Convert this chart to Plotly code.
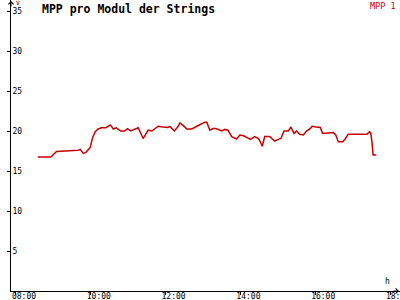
import plotly.graph_objects as go

day = "2024-01-01 "
times = ["08:35", "08:56", "09:05", "09:23", "09:27", "09:40", "09:43", "09:48", "09:53", "09:59",
         "10:03", "10:07", "10:12", "10:17", "10:24", "10:31", "10:33", "10:36", "10:41", "10:48",
         "10:54", "10:59", "11:04", "11:11", "11:16", "11:24", "11:32", "11:38", "11:48", "11:56",
         "12:03", "12:07", "12:14", "12:20", "12:23", "12:28", "12:34", "12:42", "12:47", "12:54",
         "13:03", "13:06", "13:11", "13:16", "13:21", "13:30", "13:35", "13:40", "13:46", "13:54",
         "13:59", "14:05", "14:10", "14:16", "14:23", "14:29", "14:32", "14:35", "14:39", "14:47",
         "14:50", "14:55", "15:01", "15:05", "15:10", "15:17", "15:21", "15:26", "15:30", "15:35",
         "15:41", "15:46", "15:52", "15:55", "16:02", "16:08", "16:12", "16:21", "16:29", "16:33",
         "16:37", "16:44", "16:48", "16:53", "17:23", "17:27", "17:29", "17:31", "17:32", "17:33",
         "17:38"]
values = [16.75, 16.75, 17.45, 17.5, 17.6, 17.6, 17.7, 17.2, 17.4, 17.95,
          19.2, 19.9, 20.25, 20.4, 20.4, 20.75, 20.6, 20.25, 20.4, 20.0,
          20.0, 20.3, 20.0, 20.25, 20.4, 19.06, 20.1, 20.0, 20.6, 20.5,
          20.45, 20.55, 20.0, 20.55, 21.0, 20.7, 20.25, 20.25, 20.5, 20.75,
          21.1, 21.1, 20.1, 20.3, 20.3, 20.0, 20.2, 20.1, 19.3, 19.0,
          19.5, 19.4, 19.2, 18.95, 19.3, 19.06, 18.65, 18.1, 19.3, 19.3,
          19.1, 18.75, 18.95, 19.06, 20.0, 20.0, 20.5, 19.7, 20.0, 19.6,
          19.5, 20.0, 20.3, 20.6, 20.5, 20.45, 19.7, 19.8, 19.8, 19.5,
          18.65, 18.65, 19.0, 19.6, 19.6, 19.9, 19.8, 18.6, 17.6, 17.0,
          17.0]

x_ticks = ["08:00", "10:00", "12:00", "14:00", "16:00", "18:00"]
y_ticks = [5, 10, 15, 20, 25, 30, 35]

title = "MPP pro Modul der Strings"
series_name = "MPP 1"
line_color = "#c80000"
mono = "DejaVu Sans Mono"

fig = go.Figure()
fig.add_trace(go.Scatter(
    x=[day + t for t in times], y=values, mode="lines",
    line=dict(color=line_color, width=1.5), name=series_name, showlegend=False,
))

fig.update_layout(
    width=400, height=300,
    margin=dict(l=11, r=0, t=0, b=9),
    paper_bgcolor="white", plot_bgcolor="white",
    font=dict(family=mono, size=8, color="black"),
    xaxis=dict(
        type="date",
        range=[day + "07:52", day + "18:16"],
        tickvals=[day + t for t in x_ticks], ticktext=x_ticks,
        showgrid=False, zeroline=False, automargin=False,
        showline=True, linecolor="black", linewidth=1,
        ticks="outside", ticklen=3, tickcolor="black",
        ticklabelshift=8, ticklabelstandoff=-6, ticklabeloverflow="allow",
        tickfont=dict(family=mono, size=8, color="black"),
    ),
    yaxis=dict(
        range=[0, 36.375],
        tickvals=y_ticks,
        showgrid=False, zeroline=False, automargin=False,
        showline=True, linecolor="black", linewidth=1,
        ticks="outside", ticklen=3, tickcolor="black",
        ticklabelposition="inside", ticklabeloverflow="allow",
        tickfont=dict(family=mono, size=8, color="black"),
    ),
    annotations=[
        dict(text="<b>" + title + "</b>", xref="paper", yref="paper",
             x=0.0746, y=0.969, xanchor="left", yanchor="middle", showarrow=False,
             font=dict(family=mono, size=11.5, color="black")),
        dict(text=series_name, xref="paper", yref="paper",
             x=0.995, y=0.98, xanchor="right", yanchor="middle", showarrow=False,
             font=dict(family=mono, size=8.5, color=line_color)),
        dict(text="V", xref="paper", yref="paper",
             x=0.008, y=1.012, xanchor="left", yanchor="top", showarrow=False,
             font=dict(family=mono, size=6, color="black")),
        dict(text="h", xref="paper", yref="paper",
             x=0.967, y=0.031, xanchor="center", yanchor="middle", showarrow=False,
             font=dict(family=mono, size=8, color="black")),
        dict(text="", xref="paper", yref="paper", x=0, y=1, ax=0, ay=8,
             showarrow=True, arrowhead=4, arrowsize=1, arrowwidth=1, arrowcolor="black"),
        dict(text="", xref="paper", yref="paper", x=1, y=0, ax=-8, ay=0,
             showarrow=True, arrowhead=4, arrowsize=1, arrowwidth=1, arrowcolor="black"),
    ],
)

fig.write_html("out.html")
